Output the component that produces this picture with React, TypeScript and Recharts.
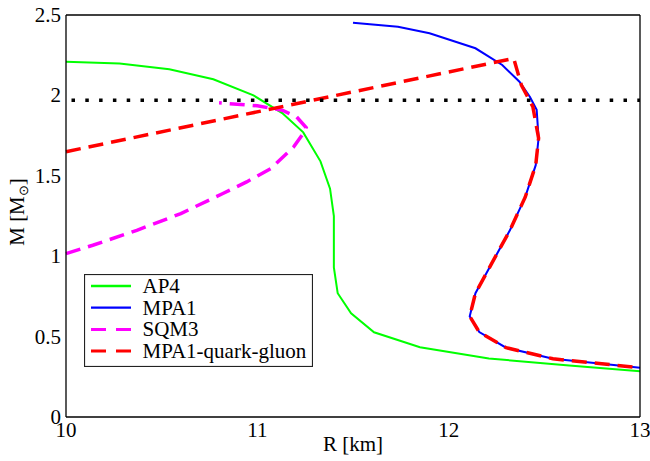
import React from "react";
import { LineChart, Line, XAxis, YAxis, ReferenceLine } from "recharts";

const FONT = "Liberation Serif";
const FS = 21;

// R [km] / M [Msun]
const ap4R = [10.0, 10.28, 10.54, 10.77, 10.98, 11.13, 11.24, 11.33, 11.38, 11.4, 11.4, 11.42, 11.49, 11.61, 11.85, 12.21, 12.63, 13.0];
const ap4M = [2.209, 2.199, 2.162, 2.1, 2.0, 1.89, 1.77, 1.59, 1.42, 1.25, 0.93, 0.77, 0.645, 0.527, 0.434, 0.364, 0.32, 0.285];

const mpa1R = [11.5, 11.735, 11.9, 12.14, 12.28, 12.37, 12.425, 12.46, 12.47, 12.455, 12.4, 12.32, 12.225, 12.14, 12.11, 12.16, 12.3, 12.545, 12.8, 13.0];
const mpa1M = [2.452, 2.427, 2.386, 2.293, 2.189, 2.085, 1.99, 1.91, 1.734, 1.566, 1.367, 1.161, 0.955, 0.77, 0.626, 0.528, 0.431, 0.362, 0.331, 0.306];

const sqm3R = [10.0, 10.14, 10.37, 10.6, 10.82, 10.944, 11.07, 11.19, 11.24, 11.255, 11.205, 11.13, 11.0, 10.8];
const sqm3M = [1.016, 1.068, 1.161, 1.265, 1.39, 1.462, 1.545, 1.68, 1.763, 1.8, 1.867, 1.908, 1.935, 1.954];

const qgR = [10.0, 12.34, 12.365, 12.38, 12.44, 12.47, 12.455, 12.4, 12.32, 12.225, 12.14, 12.11, 12.16, 12.3, 12.545, 12.8, 13.0];
const qgM = [1.65, 2.23, 2.126, 2.064, 1.93, 1.734, 1.566, 1.367, 1.161, 0.955, 0.77, 0.626, 0.528, 0.431, 0.362, 0.331, 0.306];

const observedMass = 1.97;

const xTicks = [10, 10.5, 11, 11.5, 12, 12.5, 13];
const yTicks = [0, 0.1, 0.2, 0.3, 0.4, 0.5, 0.6, 0.7, 0.8, 0.9, 1, 1.1, 1.2, 1.3, 1.4, 1.5, 1.6, 1.7, 1.8, 1.9, 2, 2.1, 2.2, 2.3, 2.4, 2.5];
const xLabels = [10, 11, 12, 13];
const yLabels = [0, 0.5, 1, 1.5, 2, 2.5];

const zip = (r: number[], m: number[]) => r.map((v, i) => ({ r: v, m: m[i] }));

const series = [
    { name: "AP4", data: zip(ap4R, ap4M), color: "#00ff00", width: 2, dash: undefined },
    { name: "MPA1", data: zip(mpa1R, mpa1M), color: "#0000ff", width: 2, dash: undefined },
    { name: "SQM3", data: zip(sqm3R, sqm3M), color: "#ff00ff", width: 3.5, dash: "15 8" },
    { name: "MPA1-quark-gluon", data: zip(qgR, qgM), color: "#ff0000", width: 3.5, dash: "15 8" },
];

const isMajorX = (v: number) => Number.isInteger(v);
const isMajorY = (v: number) => Math.abs(v * 2 - Math.round(v * 2)) < 1e-6;
const TICK = "#222";
const TW = 1.4;

// tick marks drawn by mirrored axes, so they sit inside each axis band
function makeTick(side: "bottom" | "top" | "left" | "right") {
    return function Tick({ x, y, payload }: any) {
        const v = payload.value;
        const len = (side === "bottom" || side === "top" ? isMajorX(v) : isMajorY(v)) ? 10 : 5;
        if (side === "bottom") return <line x1={x} x2={x} y1={y} y2={y - len} stroke={TICK} strokeWidth={TW} />;
        if (side === "top") return <line x1={x} x2={x} y1={y} y2={y + len} stroke={TICK} strokeWidth={TW} />;
        if (side === "left") return <line x1={x} x2={x + len} y1={y} y2={y} stroke={TICK} strokeWidth={TW} />;
        return <line x1={x} x2={x - len} y1={y} y2={y} stroke={TICK} strokeWidth={TW} />;
    };
}
const BottomTick = makeTick("bottom");
const TopTick = makeTick("top");
const LeftTick = makeTick("left");
const RightTick = makeTick("right");

function BottomLabel({ x, y, payload }: any) {
    return (
        <text x={x} y={y + 20} textAnchor="middle" fontFamily={FONT} fontSize={FS} fill="#000">
            {payload.value}
        </text>
    );
}

function LeftLabel({ x, y, payload }: any) {
    return (
        <text x={x - 5} y={y + 7} textAnchor="end" fontFamily={FONT} fontSize={FS} fill="#000">
            {payload.value}
        </text>
    );
}

function YTitle({ viewBox }: any) {
    const cy = viewBox.y + viewBox.height / 2 - 4;
    const cx = 24;
    return (
        <text x={cx} y={cy} transform={`rotate(-90, ${cx}, ${cy})`} textAnchor="middle" fontFamily={FONT} fontSize={FS} fill="#000">
            M [M
            <tspan fontSize={13} dy={4}>⊙</tspan>
            <tspan dy={-4}>]</tspan>
        </text>
    );
}

function XTitle({ viewBox }: any) {
    const cx = viewBox.x + viewBox.width / 2;
    return (
        <text x={cx} y={viewBox.y + 34} textAnchor="middle" fontFamily={FONT} fontSize={FS} fill="#000">
            R [km]
        </text>
    );
}

function LegendBox() {
    return (
        <svg width={229} height={93} style={{ position: "absolute", left: 84, top: 304 }}>
            <rect x={0.5} y={0.5} width={228} height={92} fill="#fff" stroke="#222" strokeWidth={1.2} />
            {series.map((s, i) => {
                const cy = 12 + i * 21.7;
                return (
                    <g key={s.name}>
                        <line x1={7} x2={47} y1={cy} y2={cy} stroke={s.color} strokeWidth={s.dash ? 3 : 2.3} strokeDasharray={s.dash ? "15 10" : undefined} />
                        <text x={58.5} y={cy + 7} fontFamily={FONT} fontSize={FS} fill="#000">
                            {s.name}
                        </text>
                    </g>
                );
            })}
        </svg>
    );
}

const frame = { stroke: "#000", strokeWidth: 1.3 };
const xCommon = { dataKey: "r", type: "number" as const, domain: [10, 13], interval: 0 as const, tickSize: 0, tickMargin: 0, tickLine: false };
const yCommon = { type: "number" as const, domain: [0, 2.5], interval: 0 as const, tickSize: 0, tickMargin: 0, tickLine: false };

export default function App() {
    // chart is shifted up by 30px so the top axis band has room; plot box lands on 66..640 x 15..417
    return (
        <div style={{ position: "fixed", left: 0, top: -30, width: 680, height: 491, background: "#fff" }}>
            <LineChart width={680} height={491} margin={{ top: 0, right: 0, bottom: 0, left: 0 }}>
                <XAxis {...xCommon} xAxisId={0} height={44} ticks={xLabels} tick={<BottomLabel />} axisLine={frame} label={<XTitle />} />
                <XAxis {...xCommon} xAxisId="top" orientation="top" height={45} ticks={xLabels} tick={false} axisLine={frame} />
                <YAxis {...yCommon} yAxisId={0} width={66} ticks={yLabels} tick={<LeftLabel />} axisLine={frame} label={<YTitle />} />
                <YAxis {...yCommon} yAxisId="right" orientation="right" width={40} ticks={yLabels} tick={false} axisLine={frame} />

                <XAxis {...xCommon} xAxisId="bt" mirror height={12} ticks={xTicks} tick={<BottomTick />} axisLine={false} />
                <XAxis {...xCommon} xAxisId="tt" orientation="top" mirror height={12} ticks={xTicks} tick={<TopTick />} axisLine={false} />
                <YAxis {...yCommon} yAxisId="lt" mirror width={12} ticks={yTicks} tick={<LeftTick />} axisLine={false} />
                <YAxis {...yCommon} yAxisId="rt" orientation="right" mirror width={12} ticks={yTicks} tick={<RightTick />} axisLine={false} />

                {series.map((s) => (
                    <Line
                        key={s.name}
                        data={s.data}
                        dataKey="m"
                        name={s.name}
                        type="linear"
                        stroke={s.color}
                        strokeWidth={s.width}
                        strokeDasharray={s.dash}
                        dot={false}
                        activeDot={false}
                        isAnimationActive={false}
                    />
                ))}
                <ReferenceLine
                    y={observedMass}
                    stroke="#000"
                    strokeWidth={3.5}
                    strokeDasharray="3.5 10.3"
                    strokeDashoffset={-5.5}
                />
            </LineChart>
            <LegendBox />
        </div>
    );
}
